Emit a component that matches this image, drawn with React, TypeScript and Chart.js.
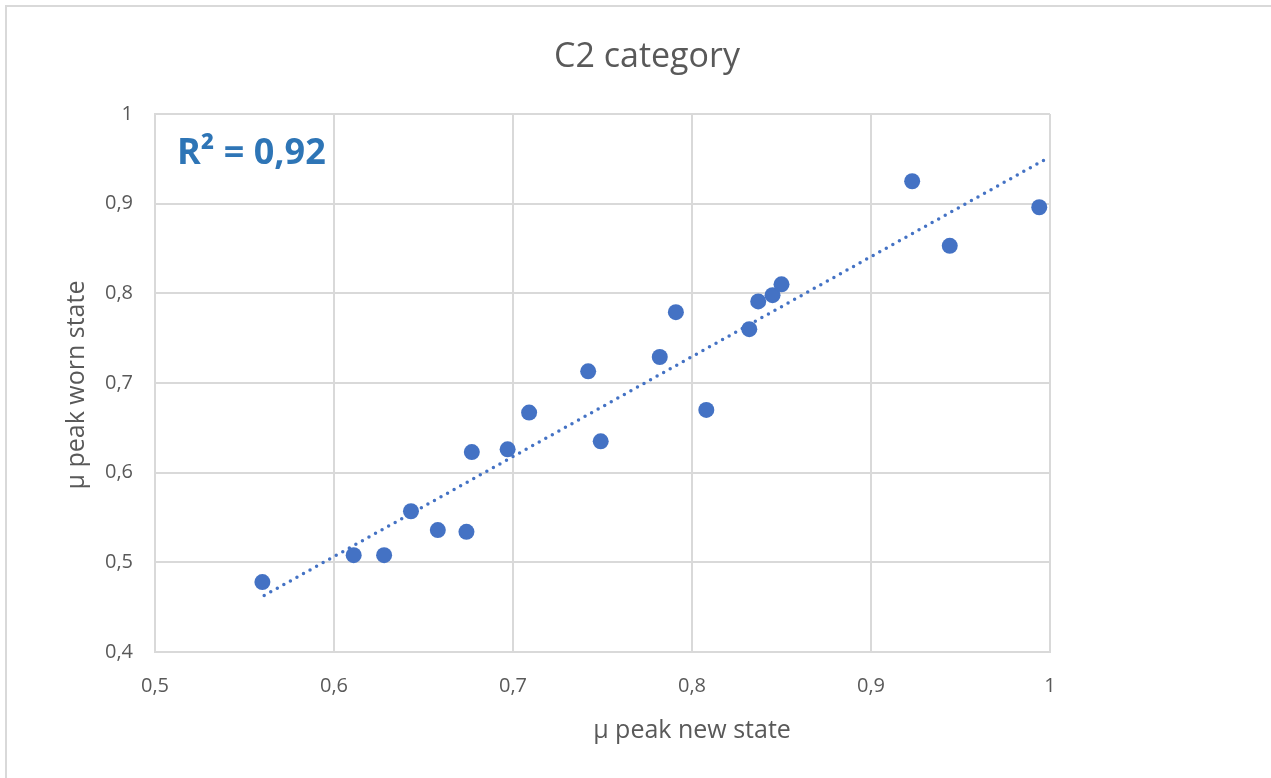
import React, { useEffect, useRef } from "react";
import { Chart, registerables } from "chart.js";

Chart.register(...registerables);

const chartTitle = "C2 category";
const xAxisTitle = "µ peak new state";
const yAxisTitle = "µ peak worn state";
const r2Label = "R² = 0,92";

const xValues = [0.560, 0.611, 0.628, 0.643, 0.658, 0.674, 0.677, 0.697, 0.709, 0.742, 0.749, 0.782, 0.791, 0.808, 0.832, 0.837, 0.845, 0.850, 0.923, 0.944, 0.994];
const yValues = [0.478, 0.508, 0.508, 0.557, 0.536, 0.534, 0.623, 0.626, 0.667, 0.713, 0.635, 0.729, 0.779, 0.670, 0.760, 0.791, 0.798, 0.810, 0.925, 0.853, 0.896];

const trendX = [0.561, 0.997];
const trendY = [0.463, 0.949];

const xTicks = [0.5, 0.6, 0.7, 0.8, 0.9, 1];
const yTicks = [0.4, 0.5, 0.6, 0.7, 0.8, 0.9, 1];

const TEXT = "#595959";
const GRID = "#d9d9d9";
const BLUE = "#4472C4";
const FONT = "'Open Sans', sans-serif";

const fmt = (v: number) => String(Math.round(v * 10) / 10).replace(".", ",");

const overlay = {
  id: "overlay",
  afterDraw(chart: any) {
    const ctx = chart.ctx as CanvasRenderingContext2D;
    const area = chart.chartArea;
    ctx.save();
    // frame
    ctx.strokeStyle = GRID;
    ctx.lineWidth = 2;
    ctx.beginPath();
    ctx.moveTo(6, 800);
    ctx.lineTo(6, 6);
    ctx.lineTo(1300, 6);
    ctx.stroke();
    // title
    ctx.fillStyle = TEXT;
    ctx.textAlign = "center";
    ctx.textBaseline = "alphabetic";
    ctx.font = `34px ${FONT}`;
    ctx.fillText(chartTitle, 647, 67);
    // x axis title
    ctx.font = `25px ${FONT}`;
    ctx.fillText(xAxisTitle, 692, 738);
    // y axis title
    ctx.save();
    ctx.translate(84, (area.top + area.bottom) / 2 + 2);
    ctx.rotate(-Math.PI / 2);
    ctx.fillText(yAxisTitle, 0, 0);
    ctx.restore();
    // R2 label
    ctx.fillStyle = "#2E75B6";
    ctx.textAlign = "left";
    ctx.font = `bold 36px ${FONT}`;
    ctx.fillText(r2Label, 177, 164);
    ctx.restore();
  },
};

export default function App() {
  const ref = useRef<HTMLCanvasElement | null>(null);
  useEffect(() => {
    if (!ref.current) return;
    const chart = new Chart(ref.current, {
      type: "scatter",
      data: {
        datasets: [
          {
            label: "data",
            data: xValues.map((x, i) => ({ x, y: yValues[i] })),
            backgroundColor: BLUE,
            borderColor: BLUE,
            pointRadius: 8,
            pointHoverRadius: 8,
            pointBorderWidth: 0,
            order: 1,
          },
          {
            label: "trend",
            type: "line",
            data: trendX.map((x, i) => ({ x, y: trendY[i] })),
            borderColor: BLUE,
            borderWidth: 3.5,
            borderDash: [0, 7.5],
            borderCapStyle: "round",
            pointRadius: 0,
            fill: false,
            showLine: true,
            order: 2,
          } as any,
        ],
      },
      options: {
        responsive: false,
        animation: false,
        events: [],
        layout: { padding: { left: 95, right: 221, top: 114, bottom: 66 } },
        plugins: {
          legend: { display: false },
          title: { display: false },
          tooltip: { enabled: false },
        },
        scales: {
          x: {
            type: "linear",
            min: 0.5,
            max: 1,
            afterFit: (s: any) => { s.height = 60; },
            afterBuildTicks: (s: any) => { s.ticks = xTicks.map((v) => ({ value: v })); },
            border: { color: GRID, width: 2 },
            grid: { color: GRID, lineWidth: 2, drawTicks: false },
            ticks: {
              padding: 22,
              color: TEXT,
              font: { family: FONT, size: 20 },
              callback: (v: any) => fmt(Number(v)),
            },
          },
          y: {
            type: "linear",
            min: 0.4,
            max: 1,
            afterFit: (s: any) => { s.width = 60; },
            afterBuildTicks: (s: any) => { s.ticks = yTicks.map((v) => ({ value: v })); },
            border: { color: GRID, width: 2 },
            grid: { color: GRID, lineWidth: 2, drawTicks: false },
            ticks: {
              padding: 22,
              color: TEXT,
              font: { family: FONT, size: 20 },
              callback: (v: any) => fmt(Number(v)),
            },
          },
        },
      },
      plugins: [overlay],
    });
    return () => chart.destroy();
  }, []);
  return (
    <div style={{ position: "fixed", left: 0, top: 0, width: 1271, height: 778, background: "#fff" }}>
      <canvas ref={ref} width={1271} height={778} style={{ display: "block", width: 1271, height: 778 }} />
    </div>
  );
}
